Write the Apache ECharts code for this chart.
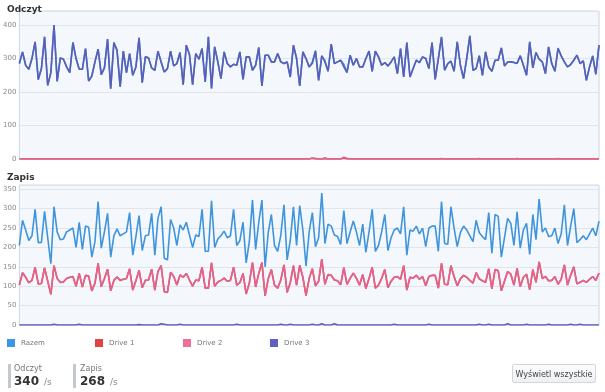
<!DOCTYPE html>
<html><head><meta charset="utf-8">
<script src="https://cdn.jsdelivr.net/npm/echarts@6/dist/echarts.min.js"></script>
<style>
html,body{margin:0;padding:0;background:#fff;font-family:"DejaVu Sans",Verdana,sans-serif;}
#wrap{position:relative;width:605px;height:392px;overflow:hidden;}
#chart{position:absolute;left:0;top:0;width:605px;height:392px;}
.bar{position:absolute;width:3px;background:#c3c8cd;}
.lbl{position:absolute;font-size:8px;color:#777;}
.val{position:absolute;font-size:12px;font-weight:bold;color:#333;}
.unit{position:absolute;font-size:9px;color:#888;}
#btn{position:absolute;left:512px;top:364px;width:84px;height:19px;border:1px solid #d3d7db;border-radius:2px;background:linear-gradient(#fbfcfd,#eef1f4);font-size:8px;color:#444;text-align:center;line-height:19px;box-sizing:border-box;}
</style></head>
<body><div id="wrap"><div id="chart"></div>
<div class="bar" style="left:8px;top:364px;height:24px"></div>
<div class="lbl" style="left:14px;top:364px">Odczyt</div>
<div class="val" style="left:14px;top:374px">340</div>
<div class="unit" style="left:44px;top:377px">/s</div>
<div class="bar" style="left:73px;top:364px;height:24px"></div>
<div class="lbl" style="left:80px;top:364px">Zapis</div>
<div class="val" style="left:80px;top:374px">268</div>
<div class="unit" style="left:110px;top:377px">/s</div>
<div id="btn">Wyświetl wszystkie</div>
</div>
<script>
var seriesNames = ['Razem', 'Drive 1', 'Drive 2', 'Drive 3'];
var readTicks = [0, 100, 200, 300, 400];
var writeTicks = [0, 50, 100, 150, 200, 250, 300, 350];

var readDrive3 = [
285,320,280,268,300,350,237,270,365,220,258,400,232,302,298,275,258,348,300,268,
268,330,233,248,290,328,252,272,358,210,348,325,216,322,258,315,250,275,362,228,
305,302,272,265,322,290,260,270,322,278,285,318,222,340,312,222,315,298,330,230,365,
211,335,290,240,320,285,275,283,280,320,238,305,305,265,280,333,218,310,310,290,
290,315,290,285,290,245,340,300,218,320,300,275,285,322,235,308,290,262,343,285,
290,295,275,258,310,280,300,275,275,300,322,262,322,305,280,288,278,290,305,255,330,
245,348,245,270,295,288,305,300,270,348,238,300,364,265,285,292,262,350,280,240,
300,368,265,270,308,250,320,275,262,295,295,332,278,290,290,288,285,308,280,250,
350,272,318,298,290,255,335,285,262,330,308,290,275,282,295,310,285,293,235,275,
308,253,340];
var readDrive1 = [
0,0,0,0,0,0,0,0,0,0,0,0,0,0,0,0,0,0,0,0,
0,0,0,0,0,0,0,0,0,0,0,0,0,0,0,0,0,0,0,0,
0,0,0,0,0,0,0,0,0,0,0,0,0,0,0,0,0,0,0,0,
0,0,0,0,0,0,0,0,0,0,0,0,0,0,0,0,0,0,0,0,
0,0,0,0,0,0,0,0,0,0,0,0,0,2,0,0,0,0,0,0,
0,0,0,3,0,0,0,0,0,0,0,0,0,0,0,0,0,0,0,0,
0,0,0,0,0,0,0,0,0,0,0,0,0,0,0,0,0,0,0,0,
0,0,0,0,0,0,0,0,0,0,0,0,0,0,0,0,0,0,0,0,
0,0,0,0,0,0,0,0,0,0,0,0,0,0,0,0,0,0,0,0,
0,0,0,0,0];
var readDrive2 = [
0,0,0,0,0,0,0,0,0,0,0,0,0,0,0,0,0,0,0,0,
0,0,0,0,0,0,0,0,0,0,0,0,0,0,0,0,0,0,0,0,
0,0,0,0,0,0,0,0,0,0,0,0,0,0,0,0,0,0,0,0,
0,0,0,0,0,0,0,0,0,0,0,0,0,0,0,0,0,0,0,0,
0,0,0,0,0,0,0,0,0,0,0,0,0,3,2,0,0,4,0,0,
0,0,0,5,2,0,0,0,0,0,0,0,0,0,0,0,0,0,0,0,
0,0,0,0,0,0,0,0,0,0,0,0,0,0,1,0,0,0,0,0,
0,0,0,0,0,0,1,0,0,0,0,0,0,0,0,0,0,0,1,0,
0,0,0,0,0,0,0,0,0,0,0,1,0,0,0,0,0,0,0,0,
0,0,0,0,0];

var writeTotal = [
205,270,245,218,230,298,212,213,293,225,158,305,240,220,222,240,245,250,200,265,
195,255,252,175,215,318,198,240,288,175,230,248,230,235,240,290,180,228,282,192,
230,232,288,180,275,305,172,168,272,250,205,258,245,265,232,200,232,228,298,190,190,320,
200,222,230,242,225,230,298,205,218,265,160,215,322,195,265,322,150,238,285,205,
190,232,310,168,218,305,205,308,245,152,240,290,202,225,340,210,260,255,232,228,
208,295,210,240,268,240,205,260,188,240,298,190,205,240,285,192,225,245,250,235,305,180,245,
242,255,235,250,202,250,255,255,190,318,210,208,305,250,202,238,255,245,230,215,
270,238,228,220,290,185,285,280,175,225,275,262,205,292,198,245,262,182,285,220,
325,240,250,228,230,250,210,235,310,205,255,300,212,220,230,220,235,250,230,268];
var writeDrive2 = [
103,135,123,109,115,149,106,107,147,113,79,153,120,110,111,120,123,125,100,133,
98,128,126,88,108,159,99,120,144,88,115,124,115,118,120,145,90,114,141,96,
115,116,144,90,138,153,86,84,136,125,103,129,123,133,116,100,116,114,149,95,95,160,
100,111,115,121,113,115,149,103,109,133,80,108,161,98,133,161,75,119,143,103,
95,116,155,84,109,153,103,154,123,76,120,145,101,113,170,105,130,128,116,114,
104,148,105,120,134,120,103,130,94,120,149,95,103,120,143,96,113,123,125,118,153,90,123,
121,128,118,125,101,125,128,128,95,159,105,104,153,125,101,119,128,123,115,108,
135,119,114,110,145,93,143,140,88,113,138,131,103,146,99,123,131,91,143,110,
163,120,125,114,115,125,105,118,155,103,128,150,106,110,115,110,118,125,115,134];
var writeDrive1 = writeDrive2.slice();
var writeDrive3 = [
0,0,0,0,0,0,0,0,0,0,0,2,0,0,0,0,0,0,0,2,
0,0,0,0,0,0,0,0,0,0,0,0,0,0,0,0,0,0,1,0,
0,0,0,0,0,3,2,0,0,0,0,2,0,0,0,0,0,0,0,0,
0,0,0,0,0,0,0,0,0,2,0,0,0,0,0,0,0,0,0,0,
0,0,0,2,0,0,2,0,0,0,0,0,0,2,0,0,3,0,0,0,
3,0,0,0,0,0,0,0,0,0,0,0,0,0,0,0,0,0,0,2,
0,0,0,0,0,0,0,0,0,0,2,0,0,0,0,0,0,0,0,0,
0,0,0,0,0,0,2,0,0,2,0,0,0,0,0,3,0,0,0,0,
0,2,0,0,0,0,0,0,2,0,0,0,0,0,0,2,0,0,2,0,
0,0,0,0,0];

var readTotal = readDrive3.map(function (v, i) { return v + readDrive1[i] + readDrive2[i]; });
var timeCats = readDrive3.map(function (v, i) { return String(i); });

var colors = ['#3f94dc', '#e04848', '#e3638d', '#5b5eb6'];
var legendColors = ['#3b96e8', '#e24343', '#ef6f98', '#5f5fbd'];
var legendLefts = [7, 95, 183, 270];

function mk(name, data, idx, colorIdx) {
  return {
    name: name, type: 'line', data: data, xAxisIndex: idx, yAxisIndex: idx,
    showSymbol: false, symbol: 'none', animation: false,
    lineStyle: { width: 1.6, color: colors[colorIdx] },
    itemStyle: { color: legendColors[colorIdx] }
  };
}

var chart = echarts.init(document.getElementById('chart'), null, { renderer: 'canvas' });
var axisY = function (idx, max, interval, ticks) {
  return {
    type: 'value', gridIndex: idx, min: 0, max: max, interval: interval,
    axisLine: { show: false }, axisTick: { show: false },
    axisLabel: {
      fontSize: 7, color: '#8a8a8a', margin: 3, fontFamily: 'DejaVu Sans',
      formatter: function (v) { return ticks.indexOf(v) >= 0 ? String(v) : ''; }
    },
    splitLine: { lineStyle: { color: '#dfe5eb', width: 1 } }
  };
};
var axisX = function (idx) {
  return {
    type: 'category', gridIndex: idx, data: timeCats, boundaryGap: false,
    axisLine: { show: false }, axisTick: { show: false }, axisLabel: { show: false },
    splitLine: { show: false }
  };
};
var legends = seriesNames.map(function (n, i) {
  return {
    left: legendLefts[i], top: 339, icon: 'rect', itemWidth: 8, itemHeight: 8, itemGap: 5,
    data: [n], padding: 0,
    textStyle: { fontSize: 7, color: '#777', fontFamily: 'DejaVu Sans', padding: [0, 0, 0, 1] }
  };
});
chart.setOption({
  animation: false,
  title: [
    { text: 'Odczyt', left: 2, top: 0, textStyle: { fontSize: 9, fontWeight: 'bold', color: '#333', fontFamily: 'DejaVu Sans' } },
    { text: 'Zapis', left: 2, top: 168, textStyle: { fontSize: 9, fontWeight: 'bold', color: '#333', fontFamily: 'DejaVu Sans' } }
  ],
  grid: [
    { left: 15, right: 6, top: 11, height: 148, show: true, backgroundColor: '#f4f8fc', borderColor: '#cdd6df', borderWidth: 1 },
    { left: 15, right: 6, top: 185, height: 140, show: true, backgroundColor: '#f4f8fc', borderColor: '#cdd6df', borderWidth: 1 }
  ],
  xAxis: [axisX(0), axisX(1)],
  yAxis: [axisY(0, 442, 100, readTicks), axisY(1, 361, 50, writeTicks)],
  legend: legends,
  series: [
    mk(seriesNames[0], readTotal, 0, 0),
    mk(seriesNames[1], readDrive1, 0, 1),
    mk(seriesNames[2], readDrive2, 0, 2),
    mk(seriesNames[3], readDrive3, 0, 3),
    mk(seriesNames[0], writeTotal, 1, 0),
    mk(seriesNames[1], writeDrive1, 1, 1),
    mk(seriesNames[2], writeDrive2, 1, 2),
    mk(seriesNames[3], writeDrive3, 1, 3)
  ]
});
</script></body></html>
